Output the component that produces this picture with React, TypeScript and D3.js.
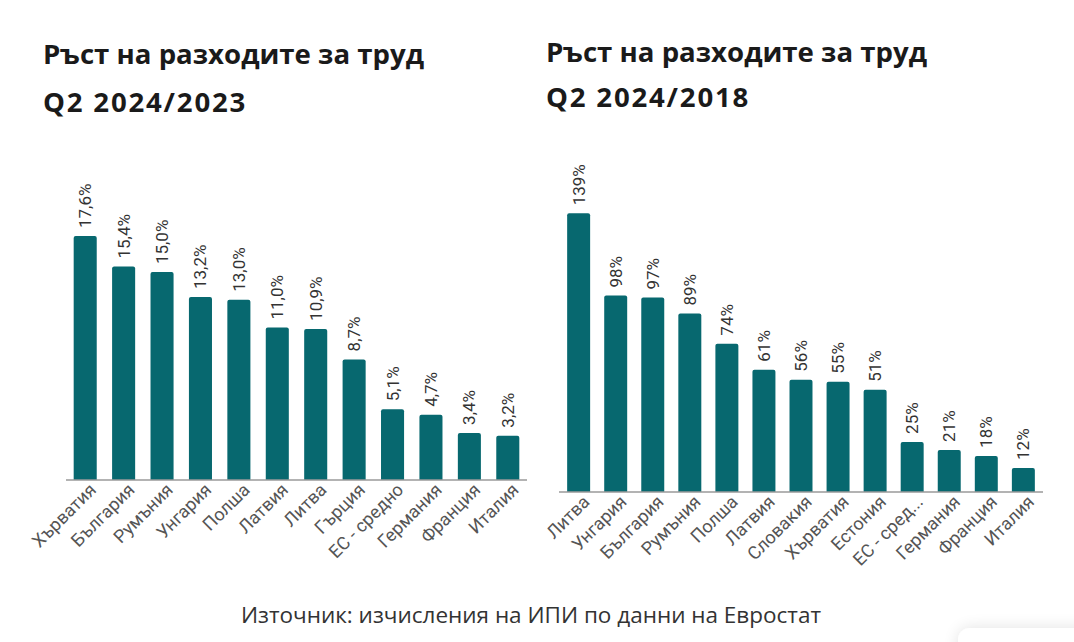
import React from "react";
import * as d3 from "d3";

const leftCategories = ["Хърватия", "България", "Румъния", "Унгария", "Полша", "Латвия", "Литва", "Гърция", "ЕС - средно", "Германия", "Франция", "Италия"];
const leftValues = [17.6, 15.4, 15.0, 13.2, 13.0, 11.0, 10.9, 8.7, 5.1, 4.7, 3.4, 3.2];
const leftLabels = ["17,6%", "15,4%", "15,0%", "13,2%", "13,0%", "11,0%", "10,9%", "8,7%", "5,1%", "4,7%", "3,4%", "3,2%"];

const rightCategories = ["Литва", "Унгария", "България", "Румъния", "Полша", "Латвия", "Словакия", "Хърватия", "Естония", "ЕС - сред...", "Германия", "Франция", "Италия"];
const rightValues = [139, 98, 97, 89, 74, 61, 56, 55, 51, 25, 21, 18, 12];
const rightLabels = ["139%", "98%", "97%", "89%", "74%", "61%", "56%", "55%", "51%", "25%", "21%", "18%", "12%"];

const titleLine1 = "Ръст на разходите за труд";
const leftTitle2 = "Q2 2024/2023";
const rightTitle2 = "Q2 2024/2018";
const sourceText = "Източник: изчисления на ИПИ по данни на Евростат";

const BAR = "#07686f";

type PanelProps = {
  cats: string[];
  vals: number[];
  labels: string[];
  x0: number;
  x1: number;
  base: number;
  yMax: number;
  yTopPx: number;
  padInner: number;
  padOuter: number;
};

function Panel({ cats, vals, labels, x0, x1, base, yMax, yTopPx, padInner, padOuter }: PanelProps) {
  const x = d3.scaleBand<string>().domain(cats).range([x0, x1]).paddingInner(padInner).paddingOuter(padOuter);
  const y = d3.scaleLinear().domain([0, yMax]).range([base, yTopPx]);
  const bw = x.bandwidth();
  return (
    <g>
      {cats.map((c, i) => {
        const bx = x(c)!;
        const top = y(vals[i]);
        const h = base - top;
        const r = 2;
        const path = `M${bx},${base} L${bx},${top + r} Q${bx},${top} ${bx + r},${top} L${bx + bw - r},${top} Q${bx + bw},${top} ${bx + bw},${top + r} L${bx + bw},${base} Z`;
        const cx = bx + bw / 2;
        return (
          <g key={c}>
            <path d={h > 0 ? path : ""} fill={BAR} />
            <text
              transform={`translate(${cx + 6},${top - 8}) rotate(-90)`}
              fontFamily="Roboto, sans-serif"
              fontSize={17}
              fill="#333"
              textAnchor="start"
            >
              {labels[i]}
            </text>
            <text
              transform={`translate(${cx + 12},${base + 11}) rotate(-45)`}
              fontFamily="Roboto, sans-serif"
              fontSize={18}
              fill="#555"
              textAnchor="end"
            >
              {c}
            </text>
          </g>
        );
      })}
      <line x1={x0} x2={x1} y1={base} y2={base} stroke="#9a9a9a" strokeWidth={1.5} />
    </g>
  );
}

export default function App() {
  return (
    <svg
      width={1074}
      height={642}
      style={{ position: "absolute", left: 0, top: 0, background: "#fff" }}
    >
      <defs>
        <filter id="sh" x="-50%" y="-100%" width="200%" height="300%">
          <feGaussianBlur in="SourceAlpha" stdDeviation="8" />
          <feComponentTransfer>
            <feFuncA type="linear" slope="0.12" />
          </feComponentTransfer>
          <feMerge>
            <feMergeNode />
            <feMergeNode in="SourceGraphic" />
          </feMerge>
        </filter>
      </defs>
      <g fontFamily="'Open Sans', sans-serif" fontWeight={700} fontSize={27.6} fill="#1a1a1a">
        <text x={43} y={64}>{titleLine1}</text>
        <text x={43} y={112} letterSpacing={1.8}>{leftTitle2}</text>
        <text x={546} y={62}>{titleLine1}</text>
        <text x={546} y={107} letterSpacing={1.8}>{rightTitle2}</text>
      </g>
      <Panel
        cats={leftCategories}
        vals={leftValues}
        labels={leftLabels}
        x0={66}
        x1={527}
        base={480}
        yMax={20}
        yTopPx={480 - 13.86 * 20}
        padInner={0.4}
        padOuter={0.2}
      />
      <Panel
        cats={rightCategories}
        vals={rightValues}
        labels={rightLabels}
        x0={559}
        x1={1043}
        base={492}
        yMax={160}
        yTopPx={492 - 2.005 * 160}
        padInner={0.38}
        padOuter={0.22}
      />
      <text x={531} y={623} textAnchor="middle" fontFamily="'Open Sans', sans-serif" fontSize={22.5} fill="#333">
        {sourceText}
      </text>
      <rect x={958} y={628} width={140} height={40} rx={12} fill="#fff" filter="url(#sh)" />
    </svg>
  );
}
